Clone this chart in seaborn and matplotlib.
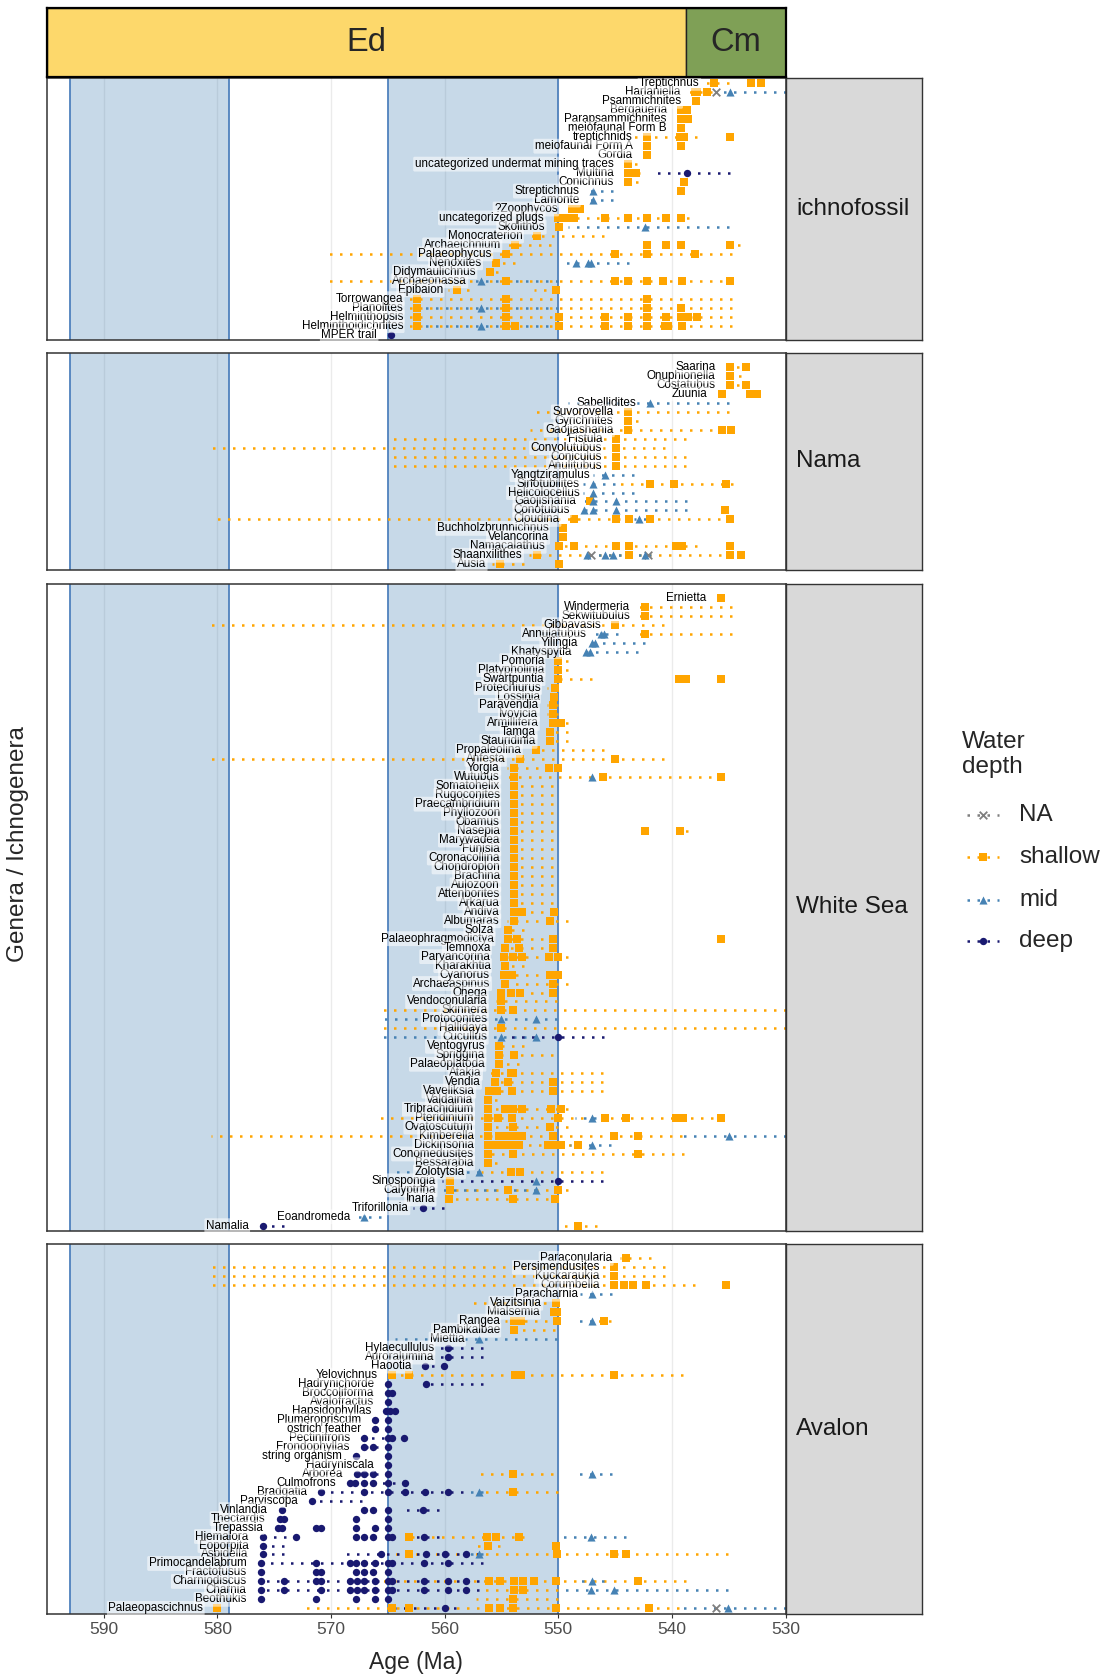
import matplotlib
matplotlib.use("Agg")
import matplotlib.pyplot as plt
import seaborn as sns
import pandas as pd

sns.set_theme(style="white")
plt.rcParams['font.family'] = ['Liberation Sans', 'DejaVu Sans']

# ---------------- data ----------------
# (genus, water depth, occurrence ages [Ma], dotted age-uncertainty ranges [(old, young)])
ICHNO = [
    ("Treptichnus", "shallow", [536.3, 533.0, 532.2], [(537.3, 535.0)]),
    ("Harlaniella", "shallow", [538.0, 537.8, 536.9], [(539.1, 536.5)]),
    ("Harlaniella", "NA", [536.1], []),
    ("Harlaniella", "mid", [534.9], [(535.6, 530.0)]),
    ("Psammichnites", "shallow", [537.9], []),
    ("Bergaueria", "shallow", [539.2, 538.7], []),
    ("Parapsammichnites", "shallow", [539.2, 538.6], []),
    ("meiofaunal Form B", "shallow", [539.2], []),
    ("treptichnids", "shallow", [542.2, 539.3, 538.9, 534.9], [(543.5, 537.8)]),
    ("meiofaunal Form A", "shallow", [542.2, 539.2], []),
    ("Gordia", "shallow", [542.2], []),
    ("uncategorized undermat mining traces", "shallow", [543.9], [(544.6, 543.1)]),
    ("Multina", "shallow", [543.9, 543.2], [(544.3, 542.8)]),
    ("Multina", "deep", [538.7], [(541.8, 534.9)]),
    ("Conichnus", "shallow", [543.9, 538.9], [(544.6, 543.0)]),
    ("Streptichnus", "mid", [546.9], [(547.8, 545.2)]),
    ("Streptichnus", "shallow", [539.2], []),
    ("Lamonte", "mid", [546.9], [(547.8, 545.2)]),
    ("?Zoophycos", "shallow", [548.8, 548.1], [(549.6, 548.1)]),
    ("uncategorized plugs", "shallow", [550.0, 549.3, 548.6, 545.9, 543.9, 542.2, 540.5, 539.2], [(550.0, 538.5)]),
    ("Skolithos", "shallow", [549.9], []),
    ("Skolithos", "mid", [542.4], [(549.1, 535.0)]),
    ("Monocraterion", "shallow", [551.9], [(552.8, 546.0)]),
    ("Archaeichnium", "shallow", [553.8, 542.2, 540.5, 539.2, 534.9], [(554.7, 550.6), (535.6, 534.0)]),
    ("Palaeophycus", "shallow", [554.6, 545.0, 542.2, 538.0], [(570.4, 534.7)]),
    ("Nenoxites", "shallow", [555.5], [(556.3, 553.8)]),
    ("Nenoxites", "mid", [548.4, 547.4, 547.1], [(549.7, 543.8)]),
    ("Didymaulichnus", "shallow", [556.0], [(556.0, 555.3)]),
    ("Archaeonassa", "mid", [556.8], [(557.6, 550.0)]),
    ("Archaeonassa", "shallow", [554.6, 545.0, 543.9, 542.2, 540.8, 539.1, 534.9], [(570.4, 534.7)]),
    ("Epibaion", "shallow", [558.9, 550.2], [(559.7, 557.9), (552.1, 550.2)]),
    ("Torrowangea", "shallow", [562.4, 554.6, 542.2], [(563.2, 534.7)]),
    ("Planolites", "shallow", [562.4, 554.6, 542.2, 539.2], [(563.2, 534.7)]),
    ("Planolites", "mid", [556.8], [(563.2, 550.0)]),
    ("Helminthopsis", "shallow", [562.4, 554.6, 549.9, 545.9, 543.9, 542.2, 540.5, 539.2, 538.6, 537.8], [(563.2, 534.7)]),
    ("Helminthoidichnites", "shallow", [562.4, 554.6, 553.8, 549.9, 545.9, 543.9, 542.2, 540.6, 540.3, 539.1], [(563.2, 534.7)]),
    ("Helminthoidichnites", "mid", [556.8], [(563.2, 550.0)]),
    ("MPER trail", "deep", [564.7], []),
]

NAMA = [
    ("Saarina", "shallow", [534.9, 533.5], [(535.7, 533.2)]),
    ("Onuphionella", "shallow", [534.9], [(535.7, 533.9)]),
    ("Costatubus", "shallow", [534.9, 533.5], [(535.7, 533.2)]),
    ("Zuunia", "shallow", [535.6, 533.1, 532.5], []),
    ("Sabellidites", "mid", [541.9], [(549.1, 535.0)]),
    ("Suvorovella", "shallow", [543.9], [(552.5, 535.0)]),
    ("Gyrichnites", "shallow", [543.9], [(544.6, 543.0)]),
    ("Gaojiashania", "shallow", [543.9, 535.6, 534.8], [(552.5, 536.5)]),
    ("Fistula", "shallow", [544.9], [(564.7, 538.8)]),
    ("Convolutubus", "shallow", [544.9], [(580.6, 540.6)]),
    ("Coniculus", "shallow", [544.9], [(564.7, 538.8)]),
    ("Anulitubus", "shallow", [544.9], [(564.7, 538.8)]),
    ("Yangtziramulus", "mid", [545.9], [(546.9, 543.3)]),
    ("Sinotubilites", "mid", [546.9], [(547.8, 545.0)]),
    ("Sinotubilites", "shallow", [541.9, 539.8, 535.2], [(544.7, 534.6)]),
    ("Helicolocellus", "mid", [546.9], [(547.8, 543.3)]),
    ("Gaojishania", "shallow", [547.2], []),
    ("Gaojishania", "mid", [546.9, 544.9], [(547.8, 538.7)]),
    ("Conotubus", "mid", [547.7, 546.9, 544.9], [(548.0, 538.7)]),
    ("Conotubus", "shallow", [535.3], []),
    ("Cloudina", "shallow", [548.6, 544.9, 543.8, 541.9, 534.9], [(580.6, 534.9)]),
    ("Cloudina", "mid", [542.9], [(543.3, 542.3)]),
    ("Buchholzbrunnichnus", "shallow", [549.6], []),
    ("Velancorina", "shallow", [549.6], []),
    ("Namacalathus", "shallow", [549.9, 548.6, 544.9, 543.8, 539.6, 539.1, 534.9], [(549.9, 537.8)]),
    ("Shaanxilithes", "shallow", [551.9, 543.8, 534.9, 533.9], [(552.6, 533.9)]),
    ("Shaanxilithes", "mid", [547.5, 545.9, 545.2, 542.4], [(547.8, 541.8)]),
    ("Shaanxilithes", "NA", [547.1, 542.1], []),
    ("Ausia", "shallow", [555.1, 549.9], [(555.8, 553.0)]),
]

WHITE_SEA = [
    ("Ernietta", "shallow", [535.7], []),
    ("Windermeria", "shallow", [542.4], [(543.5, 534.7)]),
    ("Sekwitubulus", "shallow", [542.4], [(543.5, 534.7)]),
    ("Gibbavasis", "shallow", [545.0], [(580.6, 540.7)]),
    ("Annulatubus", "mid", [546.2, 546.0], [(547.2, 544.7)]),
    ("Annulatubus", "shallow", [542.4], [(543.5, 534.7)]),
    ("Yilingia", "mid", [547.0, 546.8], [(547.6, 542.4)]),
    ("Khatyspytia", "mid", [547.6, 547.2], [(548.2, 543.0)]),
    ("Pomoria", "shallow", [550.0], [(550.7, 549.1)]),
    ("Platypholinia", "shallow", [550.0], [(550.7, 549.1)]),
    ("Swartpuntia", "shallow", [550.0, 539.4, 538.8, 535.7], [(550.5, 547.0)]),
    ("Protechiurus", "shallow", [550.3], [(551.0, 550.0)]),
    ("Lossinia", "shallow", [550.4], []),
    ("Paravendia", "shallow", [550.5], [(551.0, 550.0)]),
    ("Ivovicia", "shallow", [550.5], [(551.0, 550.0)]),
    ("Armillifera", "shallow", [550.5, 549.8], [(550.8, 549.1)]),
    ("Tamga", "shallow", [550.7], [(550.7, 549.1)]),
    ("Stauridinia", "shallow", [550.7], [(550.7, 549.1)]),
    ("Propaleolina", "shallow", [552.0], [(552.7, 546.0)]),
    ("Anfesta", "shallow", [553.4, 545.0], [(580.6, 540.7)]),
    ("Yorgia", "shallow", [553.9, 550.8, 550.0], [(554.5, 550.0)]),
    ("Wutubus", "shallow", [553.9, 546.1, 535.7], [(554.5, 535.7)]),
    ("Wutubus", "mid", [547.0], []),
    ("Somatohelix", "shallow", [553.9], [(554.5, 550.5)]),
    ("Rugoconites", "shallow", [553.9], [(554.5, 550.5)]),
    ("Praecambridium", "shallow", [553.9], [(554.5, 550.5)]),
    ("Phyllozoon", "shallow", [553.9], [(554.5, 550.5)]),
    ("Obamus", "shallow", [553.9], [(554.5, 550.5)]),
    ("Nasepia", "shallow", [553.9, 542.4, 539.3], [(554.5, 550.5), (539.3, 538.6)]),
    ("Marywadea", "shallow", [553.9], [(554.5, 550.5)]),
    ("Funisia", "shallow", [553.9], [(554.5, 550.5)]),
    ("Coronacollina", "shallow", [553.9], [(554.5, 550.5)]),
    ("Chondroplon", "shallow", [553.9], [(554.5, 550.5)]),
    ("Brachina", "shallow", [553.9], [(554.5, 550.5)]),
    ("Aulozoon", "shallow", [553.9], [(554.5, 550.5)]),
    ("Attenborites", "shallow", [553.9], [(554.5, 550.5)]),
    ("Arkarua", "shallow", [553.9], [(554.5, 550.5)]),
    ("Andiva", "shallow", [553.9, 553.2, 550.4], [(554.5, 550.5)]),
    ("Albumaras", "shallow", [553.9, 550.7], [(554.5, 549.1)]),
    ("Solza", "shallow", [554.4], [(554.8, 553.0)]),
    ("Palaeophragmodictya", "shallow", [554.4, 553.6, 550.5, 535.7], [(554.8, 550.5)]),
    ("Temnoxa", "shallow", [554.7, 553.5, 550.5], [(554.8, 550.5)]),
    ("Parvancorina", "shallow", [554.8, 554.0, 553.2, 550.8, 550.0], [(554.8, 549.1)]),
    ("Kharakhtia", "shallow", [554.7], [(555.2, 553.0)]),
    ("Cyanorus", "shallow", [554.8, 554.1, 550.7, 550.0], [(554.8, 550.0)]),
    ("Archaeaspinus", "shallow", [554.7, 550.5], [(555.2, 549.1)]),
    ("Onega", "shallow", [555.0, 554.2, 553.4, 550.5], [(555.2, 550.5)]),
    ("Vendoconularia", "shallow", [555.0], [(555.5, 550.1)]),
    ("Skinnera", "shallow", [555.0, 554.0], [(565.8, 530.0)]),
    ("Protoconites", "mid", [555.0, 552.0], [(565.8, 550.1)]),
    ("Hallidaya", "shallow", [555.0], [(565.8, 530.0)]),
    ("Cucullus", "mid", [555.0, 552.0], [(565.8, 552.0)]),
    ("Cucullus", "deep", [550.0], [(554.8, 546.0)]),
    ("Ventogyrus", "shallow", [555.2], [(555.5, 553.0)]),
    ("Spriggina", "shallow", [555.2, 553.9], [(555.5, 550.5)]),
    ("Palaeoplatoda", "shallow", [555.2], [(555.5, 553.5)]),
    ("Atakia", "shallow", [555.5, 554.2, 554.0], [(556.4, 546.1)]),
    ("Vendia", "shallow", [555.6, 554.4, 550.5], [(556.4, 546.1)]),
    ("Vaveliksia", "shallow", [556.1, 555.4, 554.1, 550.5], [(556.4, 546.1)]),
    ("Valdainia", "shallow", [556.2], [(556.2, 555.4)]),
    ("Tribrachidium", "shallow", [556.2, 554.7, 554.0, 553.2, 550.6, 549.8], [(556.4, 549.1)]),
    ("Pteridinium", "shallow", [556.2, 555.3, 554.1, 550.0, 545.9, 544.0, 539.6, 539.0, 535.7], [(566.0, 535.5)]),
    ("Pteridinium", "mid", [547.0], [(548.5, 545.8)]),
    ("Ovatoscutum", "shallow", [556.2, 554.0, 550.7], [(556.4, 549.1)]),
    ("Kimberella", "shallow", [556.2, 555.2, 554.5, 553.8, 553.2, 550.5, 545.1, 543.0], [(580.6, 539.1)]),
    ("Kimberella", "mid", [535.0], [(539.1, 530.0)]),
    ("Dickinsonia", "shallow", [556.2, 555.6, 554.9, 554.2, 553.5, 550.9, 550.3, 549.8, 548.3], [(556.4, 548.0)]),
    ("Dickinsonia", "mid", [547.0], [(549.0, 545.4)]),
    ("Conomedusites", "shallow", [556.2, 554.0, 543.0], [(556.4, 538.9)]),
    ("Bessarabia", "shallow", [556.2], [(556.2, 555.4)]),
    ("Zolotytsia", "mid", [557.0], [(564.3, 557.0)]),
    ("Zolotytsia", "shallow", [554.2, 553.4], [(556.8, 546.1)]),
    ("Sinospongia", "shallow", [559.5], []),
    ("Sinospongia", "deep", [550.0], [(560.2, 546.1)]),
    ("Sinospongia", "mid", [552.0], []),
    ("Calyptrina", "shallow", [559.5, 554.4, 550.0], [(560.2, 549.1)]),
    ("Calyptrina", "mid", [552.0], [(560.2, 552.0)]),
    ("Inaria", "shallow", [559.6, 554.0, 550.3], [(560.2, 550.0)]),
    ("Triforillonia", "deep", [561.9], [(562.8, 560.1)]),
    ("Eoandromeda", "mid", [567.1], [(567.6, 565.6)]),
    ("Namalia", "deep", [576.0], [(576.6, 574.1)]),
    ("Namalia", "shallow", [548.3], [(550.0, 546.6)]),
]

AVALON = [
    ("Paraconularia", "shallow", [544.0], [(544.6, 541.8)]),
    ("Persimendusites", "shallow", [545.1], [(580.6, 540.6)]),
    ("Kuckaraukia", "shallow", [545.1], [(580.6, 540.6)]),
    ("Corumbella", "shallow", [545.1, 544.2, 543.4, 542.3, 535.2], [(580.6, 538.0)]),
    ("Paracharnia", "mid", [547.0], [(548.1, 545.3)]),
    ("Vaizitsinia", "shallow", [550.2], [(557.6, 550.2)]),
    ("Mialsemia", "shallow", [550.4, 550.1], [(550.9, 550.0)]),
    ("Rangea", "shallow", [553.9, 553.3, 550.1, 546.0], [(554.7, 550.1), (546.6, 545.4)]),
    ("Rangea", "mid", [547.0], [(548.6, 547.0)]),
    ("Pambikalbae", "shallow", [553.9], [(554.7, 550.3)]),
    ("Miettia", "mid", [557.0], [(564.4, 550.1)]),
    ("Hylaecullulus", "deep", [559.7], [(560.8, 556.6)]),
    ("Auroralumina", "deep", [559.7], [(560.8, 556.6)]),
    ("Haootia", "deep", [561.7, 560.1], [(562.6, 560.1)]),
    ("Yelovichnus", "shallow", [564.6, 563.1, 553.8, 553.3, 545.1], [(565.2, 539.0)]),
    ("Hadrynichorde", "deep", [565.0, 561.6], [(561.6, 556.6)]),
    ("Broccoliforma", "deep", [565.0, 564.6], []),
    ("Avalofractus", "deep", [565.0], []),
    ("Hapsidophyllas", "deep", [565.2, 564.8, 564.4], []),
    ("Plumeropriscum", "deep", [566.1, 565.0], [(566.1, 565.0)]),
    ("ostrich feather", "deep", [566.1, 565.0], [(566.1, 565.0)]),
    ("Pectinifrons", "deep", [567.1, 565.0, 564.6, 563.6], [(567.1, 563.6)]),
    ("Frondophyllas", "deep", [567.1, 566.3, 565.0], [(567.1, 565.0)]),
    ("string organism", "deep", [567.8, 565.0], []),
    ("Hadryniscala", "deep", [565.0], []),
    ("Arborea", "deep", [567.7, 567.1, 566.3, 565.0], [(567.7, 565.0)]),
    ("Arborea", "shallow", [554.0], [(557.2, 550.5)]),
    ("Arborea", "mid", [547.0], [(548.7, 545.3)]),
    ("Culmofrons", "deep", [568.3, 567.9, 567.1, 566.3, 565.0, 563.5], [(568.3, 563.5)]),
    ("Bradgatia", "deep", [570.9, 567.1, 565.0, 563.5, 561.7, 559.7], [(570.9, 558.4)]),
    ("Bradgatia", "mid", [557.0], [(558.4, 556.6)]),
    ("Bradgatia", "shallow", [554.0], [(556.6, 550.0)]),
    ("Parviscopa", "deep", [571.7], [(571.7, 567.3)]),
    ("Vinlandia", "deep", [574.3, 567.1, 566.3, 565.0, 561.9], [(563.6, 560.5)]),
    ("Thectardis", "deep", [574.5, 574.1, 567.8, 565.0], []),
    ("Trepassia", "deep", [574.7, 574.3, 571.3, 570.9, 567.8, 566.1, 565.0], []),
    ("Hiemalora", "deep", [576.0, 573.1, 567.8, 567.1, 566.3, 565.0, 564.6, 561.8], [(576.0, 573.1), (562.8, 560.5)]),
    ("Hiemalora", "shallow", [563.1, 556.3, 555.5, 553.5], [(563.1, 553.0)]),
    ("Hiemalora", "mid", [547.1], [(549.9, 544.0)]),
    ("Eoporpita", "deep", [576.0], [(576.0, 574.1)]),
    ("Eoporpita", "shallow", [556.2, 550.2], [(557.6, 555.1)]),
    ("Aspidella", "deep", [576.0, 565.6, 561.6, 560.0, 558.1], [(576.0, 574.1), (568.7, 557.0)]),
    ("Aspidella", "shallow", [563.1, 550.1, 545.1, 544.0], [(564.8, 535.1)]),
    ("Aspidella", "mid", [557.0], [(558.1, 556.6)]),
    ("Primocandelabrum", "deep", [576.2, 571.3, 568.3, 567.8, 567.1, 566.1, 565.0, 564.6, 561.8, 559.7], [(576.2, 556.6)]),
    ("Fractofusus", "deep", [576.2, 571.3, 570.9, 567.8, 567.1, 566.3, 565.0], []),
    ("Charniodiscus", "deep", [576.2, 574.1, 571.3, 570.9, 568.3, 567.7, 567.1, 566.1, 565.0, 564.6, 561.8, 559.7, 558.1], [(576.2, 557.0)]),
    ("Charniodiscus", "shallow", [556.1, 555.1, 553.9, 553.1, 552.1, 550.2, 543.0], [(565.6, 538.8)]),
    ("Charniodiscus", "mid", [547.0], [(548.0, 546.0)]),
    ("Charnia", "deep", [576.2, 574.1, 570.9, 568.3, 567.7, 567.1, 566.1, 565.0, 564.6, 561.8, 559.7, 558.1], [(576.2, 557.0)]),
    ("Charnia", "shallow", [553.9, 553.1], [(556.6, 550.0)]),
    ("Charnia", "mid", [547.1, 545.1], [(550.0, 535.1)]),
    ("Beothukis", "deep", [576.2, 571.3, 567.8, 566.1, 565.0], []),
    ("Beothukis", "shallow", [554.0], [(557.2, 550.0)]),
    ("Palaeopascichnus", "shallow", [580.0, 564.6, 563.1, 556.1, 555.1, 554.0, 550.2, 542.0], [(572.7, 539.4)]),
    ("Palaeopascichnus", "deep", [560.0], [(564.6, 559.0)]),
    ("Palaeopascichnus", "NA", [536.1], []),
    ("Palaeopascichnus", "mid", [535.1], [(539.0, 530.0)]),
]

ASSEMBLAGES = ["ichnofossil", "Nama", "White Sea", "Avalon"]
SHADE_OLD = [593.0, 565.0]
SHADE_YOUNG = [579.0, 550.0]
PERIODS = ["Ed", "Cm"]
PERIOD_OLD = [595.0, 538.8]
PERIOD_YOUNG = [538.8, 530.0]
PERIOD_COLORS = ["#FDD86B", "#7FA056"]
X_TICKS = [590, 580, 570, 560, 550, 540, 530]
DEPTHS = ["NA", "shallow", "mid", "deep"]

# ---------------- styling ----------------
PAL = {"NA": "#7F7F7F", "shallow": "#FFA500", "mid": "#4682B4", "deep": "#191970"}
MARK = {"NA": "x", "shallow": "s", "mid": "^", "deep": "o"}
SIZE = {"NA": 30, "shallow": 28, "mid": 34, "deep": 28}
DOT = (0, (1, 3))

W, H = 1104, 1675
fig = plt.figure(figsize=(W / 100, H / 100), dpi=100)


def frac(x0, y0, x1, y1):
    return [x0 / W, 1 - y1 / H, (x1 - x0) / W, (y1 - y0) / H]


def build(records, first_row):
    genera = []
    for r in records:
        if r[0] not in genera:
            genera.append(r[0])
    row = {g: first_row + i for i, g in enumerate(genera)}
    pts, segs = [], []
    for g, d, ps, rs in records:
        for p in ps:
            pts.append((g, d, p, row[g]))
        for a, b in rs:
            segs.append((g, d, a, b, row[g]))
    pts = pd.DataFrame(pts, columns=["genus", "depth", "age", "row"])
    segs = pd.DataFrame(segs, columns=["genus", "depth", "old", "young", "row"])
    labs = pts.groupby("genus").agg(age=("age", "max"), row=("row", "first")).reset_index()
    return pts, segs, labs, first_row + len(genera) - 1


XL, XR = 47, 785.5
layout = [(ICHNO, 1, 78, 340), (NAMA, 2, 352.7, 569.6),
          (WHITE_SEA, 2, 583.5, 1231.1), (AVALON, 2, 1244, 1613.7)]

for i, (recs, first, top, bot) in enumerate(layout):
    pts, segs, labs, last = build(recs, first)
    ax = fig.add_axes(frac(XL, top, XR, bot))
    ax.set_xlim(595, 530)
    ax.set_ylim(last + 0.6, 0.4)
    for x in X_TICKS:
        ax.axvline(x, color="#EBEBEB", lw=1.0, zorder=0)
    for o, y in zip(SHADE_OLD, SHADE_YOUNG):
        ax.axvspan(y, o, color="steelblue", alpha=0.3, lw=0, zorder=0.5)
        ax.axvline(o, color="#4F81BD", lw=1.3, zorder=1)
        ax.axvline(y, color="#4F81BD", lw=1.3, zorder=1)
    for d in DEPTHS:
        s = segs[segs.depth == d]
        if len(s):
            ax.hlines(s["row"], s["young"], s["old"], colors=PAL[d],
                      linestyles=DOT, lw=1.8, zorder=2)
    for d in DEPTHS:
        p = pts[pts.depth == d]
        if len(p):
            kw = dict(linewidth=1.3) if d == "NA" else dict(linewidth=0)
            sns.scatterplot(data=p, x="age", y="row", color=PAL[d], marker=MARK[d],
                            s=SIZE[d], ax=ax, legend=False, zorder=3, **kw)
    for _, r in labs.iterrows():
        ax.text(r["age"] + 1.25, r["row"], r["genus"], ha="right", va="center",
                fontsize=8.4, color="black", zorder=4,
                bbox=dict(boxstyle="round,pad=0.12", fc="white", ec="none", alpha=0.55))
    ax.set_xlabel("")
    ax.set_ylabel("")
    ax.set_yticks([])
    ax.set_xticks(X_TICKS)
    if i == len(layout) - 1:
        ax.tick_params(axis="x", bottom=True, length=3, width=0.8, color="#333333",
                       labelsize=12.5, labelcolor="#4D4D4D", pad=3)
    else:
        ax.tick_params(axis="x", bottom=False, labelbottom=False)
    for sp in ax.spines.values():
        sp.set_color("#333333")
        sp.set_linewidth(1.1)
        sp.set_visible(True)
    ax.set_facecolor("white")

    # facet strip
    axs = fig.add_axes(frac(XR, top, 922, bot))
    axs.set_facecolor("#D9D9D9")
    axs.set_xticks([])
    axs.set_yticks([])
    for sp in axs.spines.values():
        sp.set_color("#333333")
        sp.set_linewidth(1.0)
    axs.text(10.5 / (922 - XR), 0.5, ASSEMBLAGES[i], transform=axs.transAxes,
             ha="left", va="center", fontsize=17.5, color="#1A1A1A")

# top period strip
axt = fig.add_axes(frac(XL, 7.5, XR, 77))
axt.set_xlim(595, 530)
axt.set_ylim(0, 1)
for name, o, y, c in zip(PERIODS, PERIOD_OLD, PERIOD_YOUNG, PERIOD_COLORS):
    axt.axvspan(y, o, facecolor=c, edgecolor="#222222", lw=1.0)
    axt.text((o + y) / 2, 0.5, name, ha="center", va="center", fontsize=23.5)
axt.set_xticks([])
axt.set_yticks([])
for sp in axt.spines.values():
    sp.set_color("black")
    sp.set_linewidth(1.6)

# axis titles
fig.text(18 / W, 1 - 844 / H, "Genera / Ichnogenera", rotation=90, ha="center",
         va="center", fontsize=17.5)
fig.text(416 / W, 1 - 1663 / H, "Age (Ma)", ha="center", va="center", fontsize=16.5)

# legend (drawn manually)
axl = fig.add_axes([0, 0, 1, 1])
axl.set_xlim(0, W)
axl.set_ylim(H, 0)
axl.axis("off")
axl.text(962, 742, "Water", fontsize=17.5, ha="left", va="center")
axl.text(962, 767, "depth", fontsize=17.5, ha="left", va="center")
for d, yy in zip(DEPTHS, [815, 857, 900, 941]):
    axl.plot([967, 999], [yy, yy], color=PAL[d], ls=DOT, lw=1.8)
    if d == "NA":
        axl.scatter([983], [yy], marker="x", color=PAL[d], s=30, linewidths=1.3)
    else:
        axl.scatter([983], [yy], marker=MARK[d], color=PAL[d], s=SIZE[d], linewidths=0)
    axl.text(1019, yy, d, fontsize=17.5, ha="left", va="center")

fig.savefig("out.png", dpi=100)
